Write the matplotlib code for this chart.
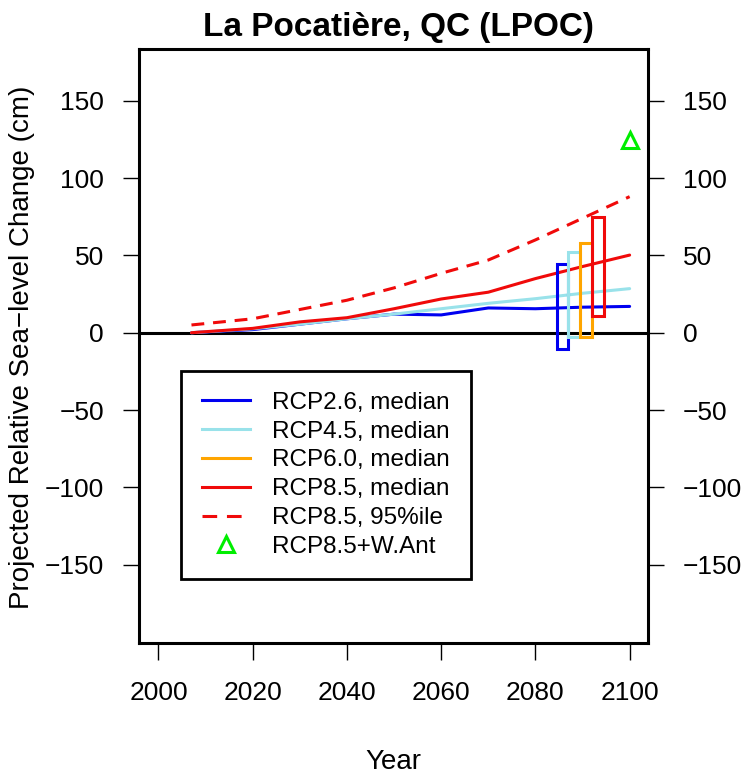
import matplotlib
matplotlib.use("Agg")
import matplotlib.pyplot as plt
from matplotlib.patches import Rectangle
from matplotlib.lines import Line2D

plt.rcParams['font.family'] = ['Liberation Sans', 'DejaVu Sans']

# ---- data ----
years = [2007, 2020, 2030, 2040, 2050, 2060, 2070, 2080, 2090, 2100]
rcp26_median = [0, 2, 5.5, 9, 12, 11.5, 16, 15.5, 16.5, 17]
rcp45_median = [0, 2.5, 5.5, 9, 12, 15.5, 19, 22, 25.5, 28.5]
rcp85_median = [0, 2.8, 7, 9.7, 15.5, 21.8, 26.2, 35, 42.8, 50.2]
rcp85_p95 = [5, 9, 15, 21, 29, 38.4, 47, 60, 74, 88]

range_scenarios = ['RCP2.6', 'RCP4.5', 'RCP6.0', 'RCP8.5']
range_left = [2084.5, 2087.0, 2089.5, 2092.0]
range_low = [-10.5, -2.5, -3.0, 10.5]
range_high = [44.5, 52.5, 58.0, 75.0]

want_year = [2100]
want_value = [124.5]

xticks = [2000, 2020, 2040, 2060, 2080, 2100]
yticks = [-150, -100, -50, 0, 50, 100, 150]

c_26 = '#0000F0'
c_45 = '#99E2EA'
c_60 = '#FFA500'
c_85 = '#F00A0A'
c_ant = '#00EE00'
range_colors = [c_26, c_45, c_60, c_85]

# ---- figure ----
W, H = 743, 774
fig = plt.figure(figsize=(W / 100, H / 100), dpi=100)
ax = fig.add_axes([138.7 / W, 1 - 643 / H, (648 - 138.7) / W, (643 - 49.3) / H])

lw = 2.2
ax.axhline(0, color='black', lw=2.2, zorder=1)
ax.plot(years, rcp26_median, color=c_26, lw=lw, solid_capstyle='round', zorder=3)
ax.plot(years, rcp45_median, color=c_45, lw=lw, solid_capstyle='round', zorder=3)
ax.plot(years, rcp85_median, color=c_85, lw=lw, solid_capstyle='round', zorder=4)
ax.plot(years, rcp85_p95, color=c_85, lw=lw, dashes=(4.2, 2.9), zorder=4)

for left, lo, hi, col in zip(range_left, range_low, range_high, range_colors):
    ax.add_patch(Rectangle((left, lo), 2.5, hi - lo, fill=False,
                           edgecolor=col, lw=2.2, zorder=5))

ax.plot(want_year, want_value, linestyle='none', marker='^', ms=11,
        mfc='none', mec=c_ant, mew=2.2, zorder=6)

ax.set_xlim(1995.8, 2103.9)
ax.set_ylim(-200.7, 183.3)
ax.set_xticks(xticks)
ax.set_yticks(yticks)
ax.set_xticklabels([str(v) for v in xticks])
ax.set_yticklabels([('\u2212' + str(-v)) if v < 0 else str(v) for v in yticks])

for s in ax.spines.values():
    s.set_linewidth(2.2)
    s.set_color('black')

ax.tick_params(axis='y', which='both', left=True, right=True,
               labelleft=True, labelright=True, direction='out',
               length=11.5, width=1.0, pad=13.5, labelsize=19, colors='black')
ax.tick_params(axis='x', direction='out', length=12, width=1.0, pad=15,
               labelsize=19, colors='black')

handles = [
    Line2D([], [], color=c_26, lw=lw),
    Line2D([], [], color=c_45, lw=lw),
    Line2D([], [], color=c_60, lw=lw),
    Line2D([], [], color=c_85, lw=lw),
    Line2D([], [], color=c_85, lw=lw, dashes=(4.8, 3.2)),
    Line2D([], [], linestyle='none', marker='^', ms=11, mfc='none', mec=c_ant, mew=2.2),
]
labels = ['RCP2.6, median', 'RCP4.5, median', 'RCP6.0, median',
          'RCP8.5, median', 'RCP8.5, 95%ile', 'RCP8.5+W.Ant']
leg = ax.legend(handles, labels, loc='upper left', bbox_to_anchor=(0.083, 0.458),
                borderaxespad=0, fontsize=17.5, handlelength=2.0, handletextpad=0.9,
                labelspacing=0.28, borderpad=0.85, frameon=True, fancybox=False,
                framealpha=1, edgecolor='black')
leg.get_frame().set_linewidth(2.0)

fig.text(398 / W, 1 - 36 / H, 'La Pocatière, QC (LPOC)', ha='center', va='baseline',
         fontsize=24, fontweight='bold')
fig.text(22 / W, 1 - 347 / H, 'Projected Relative Sea\u2212level Change (cm)', rotation=90,
         ha='center', va='center', fontsize=20)
fig.text(393.4 / W, 1 - 769 / H, 'Year', ha='center', va='baseline', fontsize=20)

fig.savefig('out.png', dpi=100)
